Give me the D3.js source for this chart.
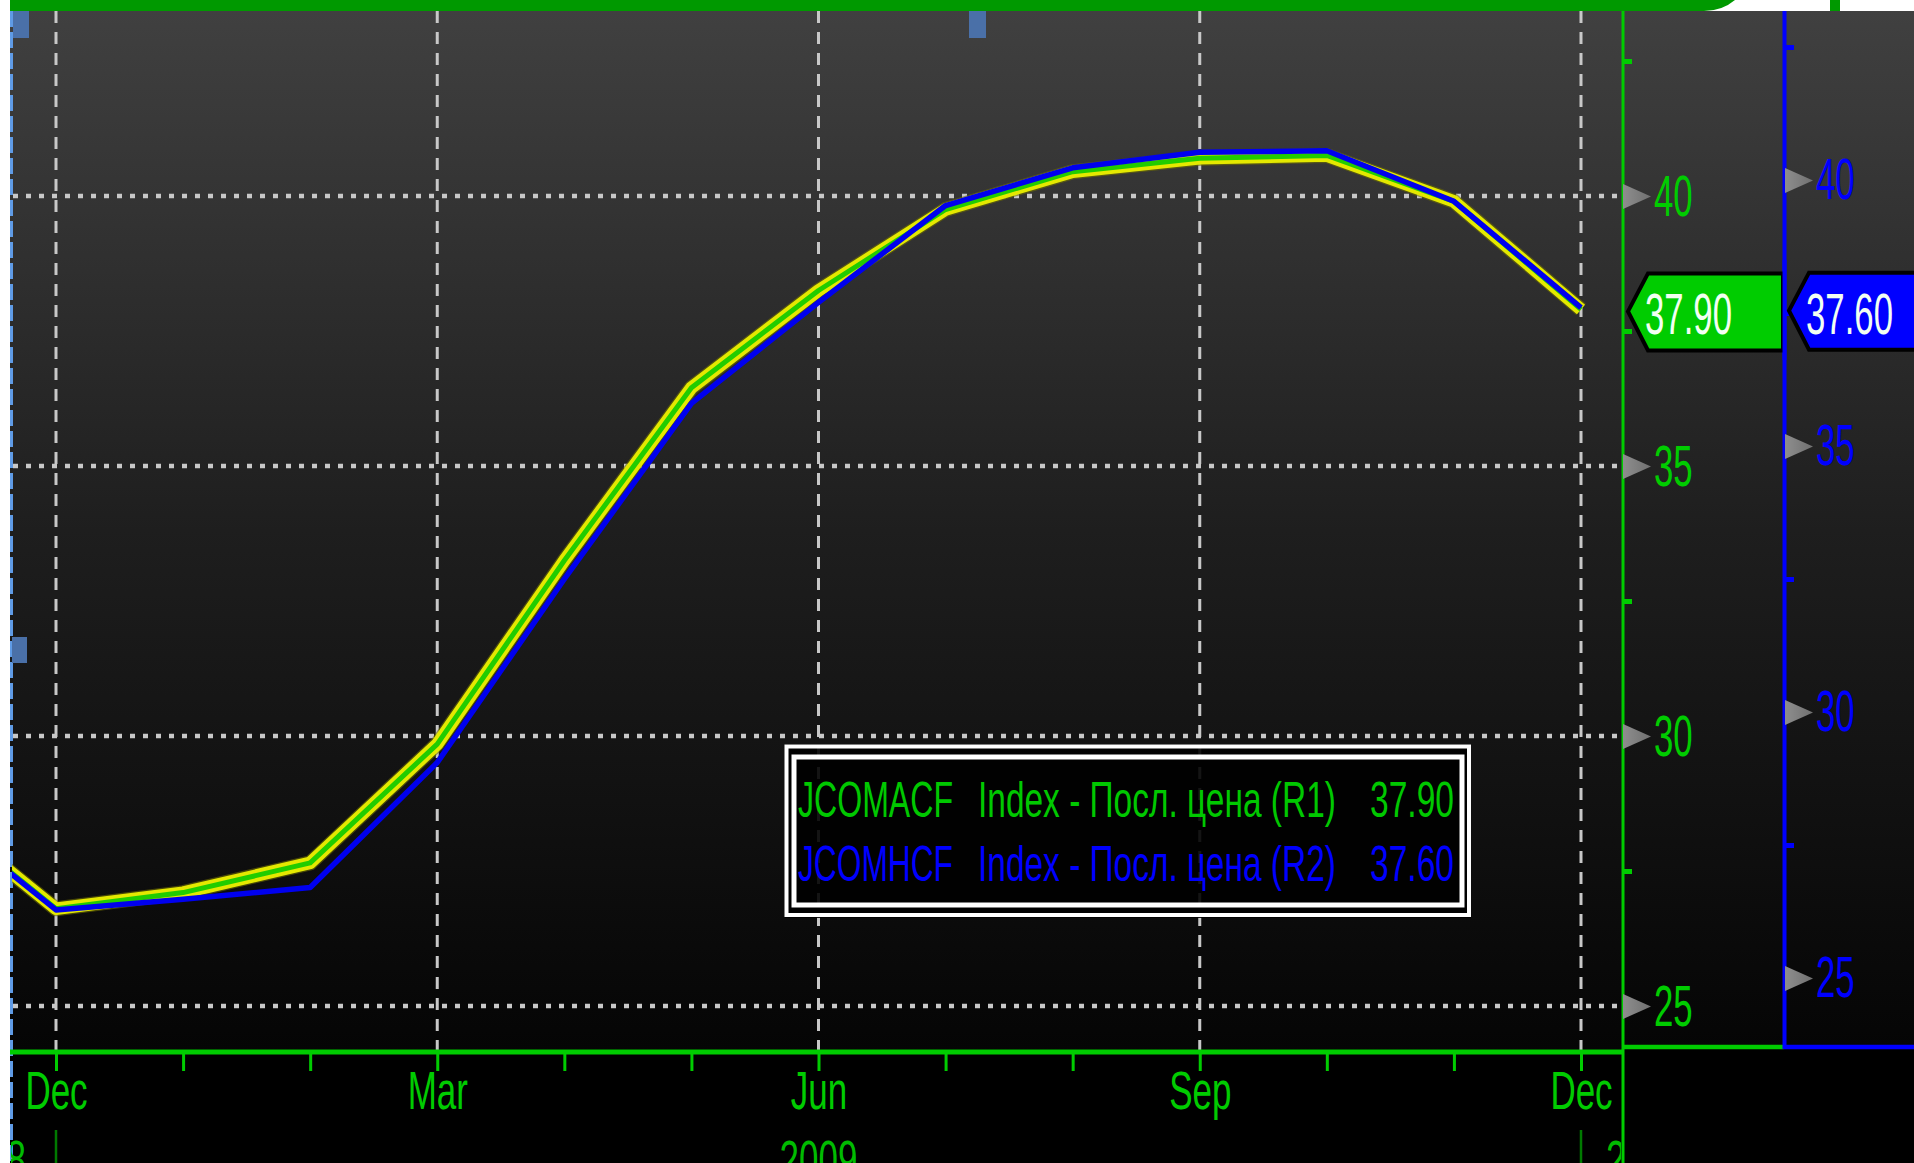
<!DOCTYPE html>
<html><head><meta charset="utf-8">
<script src="https://cdn.jsdelivr.net/npm/d3@7"></script>
<style>html,body{margin:0;padding:0;background:#fff;overflow:hidden}</style>
</head><body>
<svg id="c" width="1914" height="1163"></svg>
<script>
// ---------- DATA ----------
const monthLabels = ["Nov","Dec","Jan","Feb","Mar","Apr","May","Jun","Jul","Aug","Sep","Oct","Nov","Dec"];
const monthYears  = [2008,2008,2009,2009,2009,2009,2009,2009,2009,2009,2009,2009,2009,2009];
const labeledMonths = ["Dec","Mar","Jun","Sep"];
const jcomacf = [28.7, 26.8, 27.1, 27.65, 29.85, 33.25, 36.45, 38.25, 39.75, 40.45, 40.7, 40.75, 39.9, 37.90];
const jcomhcf = [28.2, 26.28, 26.48, 26.7, 29.05, 32.5, 35.8, 37.7, 39.52, 40.23, 40.52, 40.55, 39.6, 37.60];
const axisTicks  = [25, 30, 35, 40];
const minorTicks = [27.5, 32.5, 37.5, 42.5];
const yearLabels = ["2008", "2009", "2010"];
const seriesCodes = ["JCOMACF", "JCOMHCF"];
const seriesDescr = ["Index - Посл. цена (R1)", "Index - Посл. цена (R2)"];
const lastValues = ["37.90", "37.60"];

// ---------- SETUP ----------
const svg = d3.select("#c");
const W = 1914, H = 1163;
const plotL = 12, plotR = 1623, plotT = 11, plotB = 1052, axisB = 1623, axisR2 = 1784;
const GREEN = "#00cc00", BLUE = "#0000ff", GRID = "#c8c8c8";
const FONT = "'Liberation Sans', Arial, sans-serif";

const x = d3.scaleLinear().domain([1, 13]).range([56, 1581]);
const yG = d3.scaleLinear().domain([25, 40]).range([1006, 196]);
const yB = d3.scaleLinear().domain([25, 40]).range([978, 180]);

const defs = svg.append("defs");
const grad = defs.append("linearGradient").attr("id", "bg").attr("x1", 0).attr("y1", 0).attr("x2", 0).attr("y2", 1);
grad.append("stop").attr("offset", "0%").attr("stop-color", "#404040");
grad.append("stop").attr("offset", "50%").attr("stop-color", "#1e1e1e");
grad.append("stop").attr("offset", "100%").attr("stop-color", "#050505");
defs.append("clipPath").attr("id", "plotClip").append("rect")
  .attr("x", plotL).attr("y", plotT).attr("width", plotR - plotL - 2).attr("height", plotB - plotT - 2);
defs.append("clipPath").attr("id", "yearClip").append("rect")
  .attr("x", 11).attr("y", 1055).attr("width", axisB - 13).attr("height", 120);
const arrowGrad = defs.append("linearGradient").attr("id", "arr").attr("x1", 0).attr("x2", 1).attr("y1", 0).attr("y2", 0);
arrowGrad.append("stop").attr("offset", "0%").attr("stop-color", "#8e8e8e");
arrowGrad.append("stop").attr("offset", "100%").attr("stop-color", "#707070");

// squeeze a text horizontally to a target width
function fitWidth(sel, target, anchorX, baseY, anchor) {
  const len = sel.node().getComputedTextLength();
  const s = target / len;
  const startX = anchor === "end" ? anchorX - target : anchorX;
  sel.attr("x", 0).attr("y", 0).attr("text-anchor", "start")
    .attr("transform", `translate(${startX},${baseY}) scale(${s},1)`);
}

// white page, backgrounds
svg.append("rect").attr("width", W).attr("height", H).attr("fill", "#ffffff");
svg.append("rect").attr("x", 10).attr("y", plotT).attr("width", W - 10).attr("height", 1050 - plotT).attr("fill", "url(#bg)");
svg.append("rect").attr("x", 10).attr("y", 1049).attr("width", W - 10).attr("height", H - 1049).attr("fill", "#000");

// top green bar with rounded end
svg.append("path").attr("d", "M10,0 H1735 Q1722,11 1704,11 H10 Z").attr("fill", "#009900");
svg.append("rect").attr("x", 1830).attr("y", 0).attr("width", 10).attr("height", 11).attr("fill", "#009900");

// left dashed edge
svg.append("line").attr("x1", 11.5).attr("x2", 11.5).attr("y1", plotT).attr("y2", H)
  .attr("stroke", "#5f9be6").attr("stroke-width", 3).attr("stroke-dasharray", "16,5");

// ---------- GRID ----------
const grid = svg.append("g");
grid.selectAll("line.v").data(d3.range(1, 14).filter(i => labeledMonths.includes(monthLabels[i])))
  .join("line").attr("class", "v")
  .attr("x1", d => x(d)).attr("x2", d => x(d)).attr("y1", plotT).attr("y2", plotB - 2)
  .attr("stroke", GRID).attr("stroke-width", 3).attr("stroke-dasharray", "12,9");
grid.selectAll("line.h").data(axisTicks).join("line").attr("class", "h")
  .attr("x1", plotL + 1).attr("x2", axisB).attr("y1", d => yG(d)).attr("y2", d => yG(d))
  .attr("stroke", GRID).attr("stroke-width", 4.5).attr("stroke-dasharray", "5,8");

// markers
[[13, 11, 16, 27], [969, 11, 17, 27], [12, 637, 15, 26]].forEach(r =>
  svg.append("rect").attr("x", r[0]).attr("y", r[1]).attr("width", r[2]).attr("height", r[3]).attr("fill", "#4a70a8"));

// ---------- LINES ----------
const lines = svg.append("g").attr("clip-path", "url(#plotClip)");
const lineG = d3.line().x((d, i) => x(i)).y(d => yG(d));
const lineB = d3.line().x((d, i) => x(i)).y(d => yB(d));
lines.append("path").attr("d", lineG(jcomacf)).attr("fill", "none").attr("stroke", "#6e6e00")
  .attr("stroke-width", 15).attr("stroke-linejoin", "round").attr("opacity", 0.6);
lines.append("path").attr("d", lineG(jcomacf)).attr("fill", "none").attr("stroke", "#e4e800")
  .attr("stroke-width", 12.5).attr("stroke-linejoin", "round");
lines.append("path").attr("d", lineG(jcomacf)).attr("fill", "none").attr("stroke", "#22cc00")
  .attr("stroke-width", 5).attr("stroke-linejoin", "round");
lines.append("path").attr("d", lineB(jcomhcf)).attr("fill", "none").attr("stroke", "#0000ee")
  .attr("stroke-width", 5.5).attr("stroke-linejoin", "round");

// ---------- LEGEND ----------
const lg = svg.append("g");
lg.append("rect").attr("x", 785).attr("y", 744).attr("width", 686).attr("height", 174).attr("fill", "#000").attr("opacity", 0.9);
lg.append("rect").attr("x", 786.5).attr("y", 746.5).attr("width", 682.5).attr("height", 168.5)
  .attr("fill", "none").attr("stroke", "#fff").attr("stroke-width", 4);
lg.append("rect").attr("x", 794).attr("y", 757).attr("width", 668).attr("height", 148)
  .attr("fill", "none").attr("stroke", "#fff").attr("stroke-width", 5);
const legColors = ["#00c800", "#0000ff"];
const legBase = [817, 881];
seriesCodes.forEach((code, i) => {
  const t = (txt, xx, len, anchor) => {
    const s = lg.append("text").attr("font-family", FONT).attr("font-size", 50)
      .attr("fill", legColors[i]).text(txt);
    fitWidth(s, len, xx, legBase[i], anchor);
  };
  t(code, 798, 155);
  t(seriesDescr[i], 978, 358);
  t(lastValues[i], 1454, 84, "end");
});

// ---------- X AXIS ----------
const xAxis = d3.axisBottom(x).tickValues(d3.range(1, 14)).tickSize(19)
  .tickFormat(i => labeledMonths.includes(monthLabels[i]) ? monthLabels[i] : "");
const gx = svg.append("g").attr("transform", `translate(0,${plotB})`).call(xAxis);
gx.select(".domain").remove();
gx.selectAll(".tick line").attr("stroke", GREEN).attr("stroke-width", 3);
gx.selectAll(".tick text").attr("y", 0).attr("dy", null)
  .attr("transform", "translate(0,57) scale(0.66,1)")
  .attr("font-family", FONT).attr("font-size", 53).attr("fill", GREEN);
svg.append("line").attr("x1", 10).attr("x2", axisB).attr("y1", plotB).attr("y2", plotB)
  .attr("stroke", GREEN).attr("stroke-width", 5);

// year separators and labels
svg.selectAll("line.ysep").data([1, 13]).join("line").attr("class", "ysep")
  .attr("x1", d => x(d)).attr("x2", d => x(d)).attr("y1", 1130).attr("y2", H)
  .attr("stroke", "#007a00").attr("stroke-width", 2.5);
const yg = svg.append("g").attr("clip-path", "url(#yearClip)");
const yearPos = [[x(1) - 30, "end"], [(x(1) + x(13)) / 2, "middle"], [x(13) + 25, "start"]];
yearLabels.forEach((yl, i) => {
  yg.append("text").attr("transform", `translate(${yearPos[i][0]},1178) scale(0.66,1)`)
    .attr("text-anchor", yearPos[i][1]).attr("font-family", FONT).attr("font-size", 53)
    .attr("fill", "#00bb00").text(yl);
});

// ---------- RIGHT AXES ----------
svg.append("line").attr("x1", axisB).attr("x2", axisB).attr("y1", plotT).attr("y2", H)
  .attr("stroke", GREEN).attr("stroke-width", 3);
svg.append("line").attr("x1", axisB).attr("x2", axisR2).attr("y1", 1047).attr("y2", 1047)
  .attr("stroke", GREEN).attr("stroke-width", 4.5);
svg.append("line").attr("x1", axisR2 + 0.5).attr("x2", axisR2 + 0.5).attr("y1", plotT).attr("y2", 1049)
  .attr("stroke", BLUE).attr("stroke-width", 4);
svg.append("line").attr("x1", axisR2).attr("x2", W).attr("y1", 1047).attr("y2", 1047)
  .attr("stroke", BLUE).attr("stroke-width", 4.5);

function rightAxis(scale, xpos, color, labelDy) {
  const minor = svg.append("g").attr("transform", `translate(${xpos},0)`)
    .call(d3.axisRight(scale).tickValues(minorTicks).tickSize(9).tickFormat(""));
  minor.select(".domain").remove();
  minor.selectAll(".tick line").attr("stroke", color).attr("stroke-width", 5);
  const g = svg.append("g").attr("transform", `translate(${xpos},0)`)
    .call(d3.axisRight(scale).tickValues(axisTicks).tickSize(0).tickFormat(d3.format("d")));
  g.select(".domain").remove();
  g.selectAll(".tick line").remove();
  g.selectAll(".tick").insert("path", "text").attr("d", "M0,-12.5 L28,0 L0,12.5 Z").attr("fill", "url(#arr)");
  g.selectAll(".tick text").attr("x", 0).attr("dy", null).attr("y", 0)
    .attr("transform", `translate(31,${labelDy}) scale(0.6,1)`)
    .attr("text-anchor", "start").attr("font-family", FONT).attr("font-size", 58).attr("fill", color);
}
rightAxis(yG, axisB, GREEN, 19);
rightAxis(yB, axisR2 + 1, BLUE, 18);

// ---------- LAST VALUE TAGS ----------
function tag(cy, tipX, rightX, fill, label) {
  const top = cy - 38, bot = cy + 39;
  svg.append("path")
    .attr("d", `M${tipX},${cy} L${tipX + 20},${top} L${rightX},${top} L${rightX},${bot} L${tipX + 20},${bot} Z`)
    .attr("fill", fill).attr("stroke", "#000").attr("stroke-width", 4).attr("stroke-linejoin", "miter");
  svg.append("text").attr("transform", `translate(${tipX + 17},${cy + 23}) scale(0.61,1)`)
    .attr("font-family", FONT).attr("font-size", 57).attr("fill", "#f2fff2").text(label);
}
tag(yG(jcomacf[jcomacf.length - 1]) + 2, 1628, axisR2 - 1, GREEN, lastValues[0]);
tag(yB(jcomhcf[jcomhcf.length - 1]) + 3, 1789, W + 10, BLUE, lastValues[1]);
svg.append("line").attr("x1", axisR2 + 0.5).attr("x2", axisR2 + 0.5).attr("y1", 260).attr("y2", 360)
  .attr("stroke", BLUE).attr("stroke-width", 4);
</script>
</body></html>
